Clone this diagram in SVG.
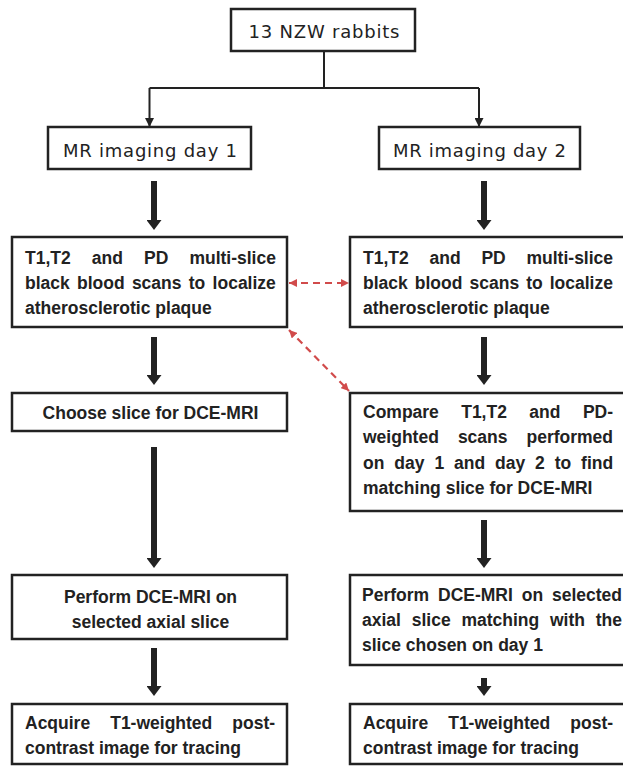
<svg xmlns="http://www.w3.org/2000/svg" width="623" height="767" viewBox="0 0 623 767">
<defs>
<style>
.box{fill:#fff;stroke:#222;stroke-width:2.5}
.lbl{font-family:"DejaVu Sans","Liberation Sans",sans-serif;font-size:18px;fill:#222}
.txt{font-family:"Liberation Sans",Arial,sans-serif;font-size:17.5px;font-weight:bold;fill:#222}
.thin{stroke:#222;stroke-width:2;fill:none}
.thick{stroke:#222;stroke-width:6;fill:none}
.red{stroke:#d14b4b;stroke-width:2.2;stroke-dasharray:7 5;fill:none}
</style>
<marker id="mThin" markerUnits="userSpaceOnUse" markerWidth="9" markerHeight="9" refX="9" refY="4.5" orient="auto">
<path d="M0,0 L9,4.5 L0,9 z" fill="#222"/>
</marker>
<marker id="mThick" markerUnits="userSpaceOnUse" markerWidth="10" markerHeight="15" refX="0" refY="7.5" orient="auto">
<path d="M0,0 L10,7.5 L0,15 z" fill="#222"/>
</marker>
<marker id="mRed" markerUnits="userSpaceOnUse" markerWidth="8" markerHeight="8" refX="8" refY="4" orient="auto-start-reverse">
<path d="M0,0 L8,4 L0,8 z" fill="#d14b4b"/>
</marker>
</defs>
<rect x="0" y="0" width="623" height="767" fill="#fff"/>

<g id="connectors">
<path class="thin" d="M324 51 V88 M149.5 88 H479"/>
<path class="thin" d="M149.5 88 V127" marker-end="url(#mThin)"/>
<path class="thin" d="M479 88 V127" marker-end="url(#mThin)"/>
<path class="thick" d="M154 181 V220" marker-end="url(#mThick)"/>
<path class="thick" d="M484 181 V220" marker-end="url(#mThick)"/>
<path class="thick" d="M154 337 V375" marker-end="url(#mThick)"/>
<path class="thick" d="M484 337 V375" marker-end="url(#mThick)"/>
<path class="thick" d="M154 447 V558" marker-end="url(#mThick)"/>
<path class="thick" d="M484 520 V558" marker-end="url(#mThick)"/>
<path class="thick" d="M154 648 V686" marker-end="url(#mThick)"/>
<path class="thick" d="M484 678 V686" marker-end="url(#mThick)"/>
<path class="red" d="M289 283 H349" marker-start="url(#mRed)" marker-end="url(#mRed)"/>
<path class="red" d="M289 330 L349 391" marker-start="url(#mRed)" marker-end="url(#mRed)"/>
</g>

<g id="n-rabbits">
<rect class="box" x="231" y="9" width="184" height="42"/>
<text class="lbl" x="324" y="38" text-anchor="middle" textLength="151" lengthAdjust="spacing">13 NZW rabbits</text>
</g>

<g id="n-day1">
<rect class="box" x="48" y="127" width="203" height="42"/>
<text class="lbl" x="150" y="157" text-anchor="middle" textLength="174" lengthAdjust="spacing">MR imaging day 1</text>
</g>

<g id="n-day2">
<rect class="box" x="379" y="127" width="201" height="42"/>
<text class="lbl" x="479.5" y="157" text-anchor="middle" textLength="173" lengthAdjust="spacing">MR imaging day 2</text>
</g>

<g id="n-scan1">
<rect class="box" x="12" y="237" width="275" height="90"/>
<text class="txt" y="264"><tspan x="25">T1,T2</tspan> <tspan x="91.8">and</tspan> <tspan x="144">PD</tspan> <tspan x="189.4">multi-slice</tspan></text>
<text class="txt" y="289"><tspan x="25">black</tspan> <tspan x="77">blood</tspan> <tspan x="131.9">scans</tspan> <tspan x="188.8">to</tspan> <tspan x="212.6">localize</tspan></text>
<text class="txt" x="25" y="314">atherosclerotic plaque</text>
</g>

<g id="n-scan2">
<rect class="box" x="350" y="237" width="280" height="90"/>
<text class="txt" y="264"><tspan x="363">T1,T2</tspan> <tspan x="429.5">and</tspan> <tspan x="481.4">PD</tspan> <tspan x="526.5">multi-slice</tspan></text>
<text class="txt" y="289"><tspan x="363">black</tspan> <tspan x="414.8">blood</tspan> <tspan x="469.5">scans</tspan> <tspan x="526.2">to</tspan> <tspan x="549.7">localize</tspan></text>
<text class="txt" x="363" y="314">atherosclerotic plaque</text>
</g>

<g id="n-choose">
<rect class="box" x="12" y="393" width="275" height="38"/>
<text class="txt" x="150.5" y="419" text-anchor="middle">Choose slice for DCE-MRI</text>
</g>

<g id="n-compare">
<rect class="box" x="350" y="393" width="280" height="118"/>
<text class="txt" y="418"><tspan x="363">Compare</tspan> <tspan x="461.2">T1,T2</tspan> <tspan x="529.3">and</tspan> <tspan x="582.9">PD-</tspan></text>
<text class="txt" y="443.3"><tspan x="363">weighted</tspan> <tspan x="457.9">scans</tspan> <tspan x="526.5">performed</tspan></text>
<text class="txt" y="468.6"><tspan x="363">on</tspan> <tspan x="394.3">day</tspan> <tspan x="434.4">1</tspan> <tspan x="454">and</tspan> <tspan x="495">day</tspan> <tspan x="535.1">2</tspan> <tspan x="554.7">to</tspan> <tspan x="581.1">find</tspan></text>
<text class="txt" x="363" y="494">matching slice for DCE-MRI</text>
</g>

<g id="n-perform1">
<rect class="box" x="12" y="575" width="275" height="64"/>
<text class="txt" x="150.5" y="603" text-anchor="middle">Perform DCE-MRI on</text>
<text class="txt" x="150.5" y="628" text-anchor="middle">selected axial slice</text>
</g>

<g id="n-perform2">
<rect class="box" x="350" y="575" width="280" height="90"/>
<text class="txt" y="601"><tspan x="362">Perform</tspan> <tspan x="438">DCE-MRI</tspan> <tspan x="521.7">on</tspan> <tspan x="552">selected</tspan></text>
<text class="txt" y="626"><tspan x="362">axial</tspan> <tspan x="411.7">slice</tspan> <tspan x="461.4">matching</tspan> <tspan x="550">with</tspan> <tspan x="595.8">the</tspan></text>
<text class="txt" x="362" y="651">slice chosen on day 1</text>
</g>

<g id="n-acquire1">
<rect class="box" x="12" y="704" width="275" height="60"/>
<text class="txt" y="729"><tspan x="25">Acquire</tspan> <tspan x="110.2">T1-weighted</tspan> <tspan x="232.3">post-</tspan></text>
<text class="txt" x="25" y="754">contrast image for tracing</text>
</g>

<g id="n-acquire2">
<rect class="box" x="350" y="704" width="280" height="60"/>
<text class="txt" y="729"><tspan x="363">Acquire</tspan> <tspan x="448.2">T1-weighted</tspan> <tspan x="570.3">post-</tspan></text>
<text class="txt" x="363" y="754">contrast image for tracing</text>
</g>
</svg>
